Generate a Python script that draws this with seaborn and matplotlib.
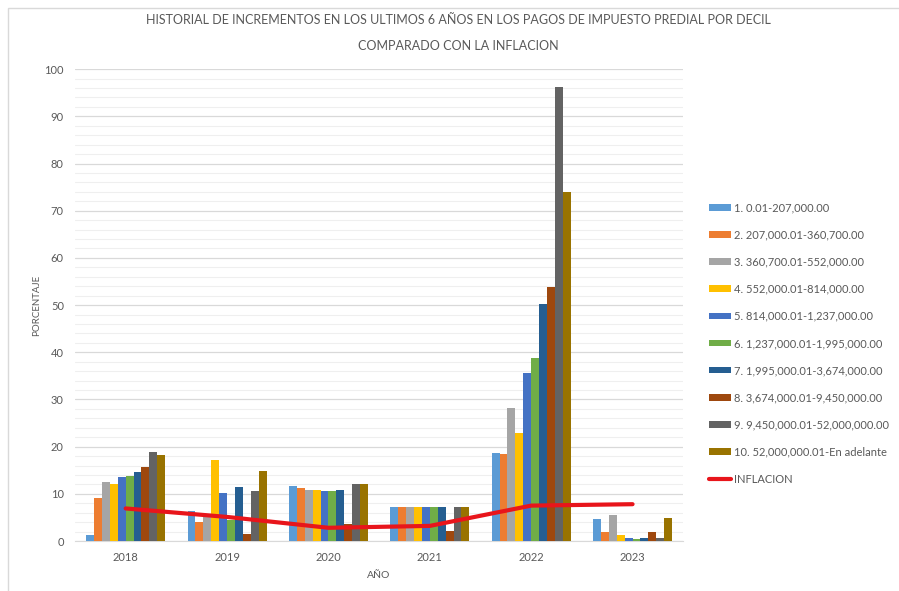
import numpy as np
import pandas as pd
import matplotlib.pyplot as plt
import seaborn as sns
from matplotlib.patches import Rectangle
from matplotlib.ticker import MultipleLocator

# datos
years = ['2018', '2019', '2020', '2021', '2022', '2023']
deciles = ['1. 0.01-207,000.00',
           '2. 207,000.01-360,700.00',
           '3. 360,700.01-552,000.00',
           '4. 552,000.01-814,000.00',
           '5. 814,000.01-1,237,000.00',
           '6. 1,237,000.01-1,995,000.00',
           '7. 1,995,000.01-3,674,000.00',
           '8. 3,674,000.01-9,450,000.00',
           '9. 9,450,000.01-52,000,000.00',
           '10. 52,000,000.01-En adelante']

d2018 = [1.2, 9.2, 12.4, 12.0, 13.6, 13.8, 14.7, 15.7, 18.8, 18.3]
d2019 = [6.4, 4.1, 5.4, 17.1, 10.1, 4.5, 11.4, 1.4, 10.5, 14.9]
d2020 = [11.7, 11.3, 10.9, 10.8, 10.7, 10.5, 10.8, 3.7, 12.1, 12.1]
d2021 = [7.3, 7.1, 7.1, 7.1, 7.1, 7.1, 7.1, 2.1, 7.1, 7.1]
d2022 = [18.7, 18.5, 28.1, 22.8, 35.7, 38.8, 50.3, 53.8, 96.3, 73.9]
d2023 = [4.7, 1.9, 5.6, 1.2, 0.6, 0.4, 0.6, 2.0, 0.7, 4.9]
inflacion = [6.9, 5.1, 2.8, 3.2, 7.5, 7.8]

colors = ['#5B9BD5', '#ED7D31', '#A5A5A5', '#FFC000', '#4472C4',
          '#70AD47', '#255E91', '#9E480E', '#636363', '#997300']

df = pd.DataFrame({
    'year': np.repeat(years, len(deciles)),
    'decil': deciles * len(years),
    'valor': d2018 + d2019 + d2020 + d2021 + d2022 + d2023,
})

sns.set_style('white')
plt.rcParams['font.family'] = ['Lato', 'DejaVu Sans']
gris = '#595959'

fig = plt.figure(figsize=(8.99, 5.91), dpi=100)
ax = fig.add_axes([0.0834, 0.0846, 0.6766, 0.7984])

# marco del área del gráfico
fig.patches.append(Rectangle((8 / 899, -0.05), 1.0, 1.0 - 8 / 591 + 0.05,
                             transform=fig.transFigure, fill=False,
                             edgecolor='#D9D9D9', linewidth=1))

sns.barplot(data=df, x='year', y='valor', hue='decil', palette=colors,
            width=0.78, saturation=1, linewidth=0, ax=ax, zorder=3)
ax.plot(np.arange(len(years)), inflacion, color='#E8151B', linewidth=3,
        label='INFLACION', zorder=4, solid_capstyle='round')

ax.set_ylim(0, 100)
ax.set_xlim(-0.5, len(years) - 0.5)
ax.yaxis.set_major_locator(MultipleLocator(10))
ax.yaxis.set_minor_locator(MultipleLocator(2))
ax.grid(True, which='major', axis='y', color='#D9D9D9', linewidth=0.9, zorder=0)
ax.grid(True, which='minor', axis='y', color='#EFEFEF', linewidth=0.8, zorder=0)
ax.set_axisbelow(True)
for s in ['left', 'right', 'top']:
    ax.spines[s].set_visible(False)
ax.spines['bottom'].set_color('#D9D9D9')
ax.tick_params(axis='both', which='both', length=0, labelsize=8, labelcolor=gris, pad=8)

ax.set_xlabel('AÑO', fontsize=7.5, color=gris, labelpad=6)
ax.set_ylabel('PORCENTAJE', fontsize=7, color=gris, labelpad=2)

fig.text(0.51, 0.967, 'HISTORIAL DE INCREMENTOS EN LOS ULTIMOS 6 AÑOS EN LOS PAGOS DE IMPUESTO PREDIAL POR DECIL',
         ha='center', va='center', fontsize=9, color=gris)
fig.text(0.51, 0.923, 'COMPARADO CON LA INFLACION',
         ha='center', va='center', fontsize=9, color=gris)

handles, labels = ax.get_legend_handles_labels()
ax.legend(handles, labels, loc='upper left', bbox_to_anchor=(1.035, 0.727),
          frameon=False, fontsize=8, labelcolor=gris, handlelength=2.0,
          handleheight=0.55, handletextpad=0.25, labelspacing=1.45, borderaxespad=0)

plt.savefig('out.png', dpi=100)
